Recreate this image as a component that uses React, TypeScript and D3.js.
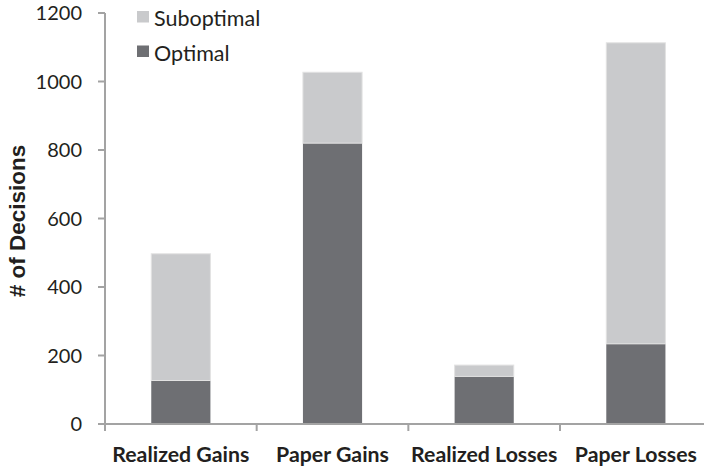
import React from "react";
import * as d3 from "d3";

const categories = ["Realized Gains", "Paper Gains", "Realized Losses", "Paper Losses"];
const optimal = [127, 820, 139, 234];
const suboptimal = [370, 207, 33, 879];
const seriesNames = ["Optimal", "Suboptimal"];
const yTicks = [0, 200, 400, 600, 800, 1000, 1200];

const COLORS: Record<string, string> = { Optimal: "#6e6f73", Suboptimal: "#c9cacc" };
const AXIS = "#a3a3a3";
const FONT = "Lato, 'Open Sans', sans-serif";

export default function App() {
  const W = 704, H = 467;
  const left = 105, right = 711.7, top = 13, bottom = 424;
  const x = d3.scaleBand<string>().domain(categories).range([left, right]).padding(0);
  const y = d3.scaleLinear().domain([0, 1200]).range([bottom, top]);
  const rows = categories.map((c, i) => ({ cat: c, Optimal: optimal[i], Suboptimal: suboptimal[i] }));
  const stacked = d3.stack<any>().keys(seriesNames)(rows);
  const barW = x.bandwidth() * 0.39;
  const boundaries = [...categories.map((c) => x(c)!), right];

  return (
    <svg width={W} height={H} style={{ position: "absolute", left: 0, top: 0, background: "#fff" }}>
      {stacked.map((s) => (
        <g key={s.key}>
          {s.map((d, i) => {
            const cx = x(categories[i])! + x.bandwidth() / 2;
            return (
              <rect
                key={i}
                x={cx - barW / 2}
                y={y(d[1])}
                width={barW}
                height={y(d[0]) - y(d[1])}
                fill={COLORS[s.key]}
                stroke={s.key === "Suboptimal" ? "#e2e2e2" : "none"}
                strokeWidth={1}
              />
            );
          })}
        </g>
      ))}
      {/* y axis */}
      <line x1={left} x2={left} y1={top} y2={bottom} stroke={AXIS} strokeWidth={2} />
      {yTicks.map((t) => (
        <g key={t}>
          <line x1={left - 7} x2={left} y1={y(t)} y2={y(t)} stroke={AXIS} strokeWidth={2} />
          <text x={82} y={y(t)} dy="0.36em" textAnchor="end" fontFamily={FONT} fontSize={20} fill="#231f20">
            {t}
          </text>
        </g>
      ))}
      {/* x axis */}
      <line x1={left - 1} x2={right} y1={bottom} y2={bottom} stroke={AXIS} strokeWidth={2} />
      {boundaries.map((b, i) => (
        <line key={i} x1={b} x2={b} y1={bottom} y2={bottom + 7} stroke={AXIS} strokeWidth={2} />
      ))}
      {categories.map((c) => (
        <text
          key={c}
          x={x(c)! + x.bandwidth() / 2}
          y={461.5}
          textAnchor="middle"
          fontFamily={FONT}
          fontWeight="bold"
          fontSize={21.3}
          fill="#231f20"
        >
          {c}
        </text>
      ))}
      {/* y title */}
      <text
        transform="translate(25,221) rotate(-90)"
        textAnchor="middle"
        fontFamily="'Liberation Sans', Arial, sans-serif"
        fontWeight="bold"
        fontSize={22.5}
        fill="#231f20"
      >
        # of Decisions
      </text>
      {/* legend */}
      {["Suboptimal", "Optimal"].map((k, i) => (
        <g key={k} transform={`translate(137,${11 + i * 34.5})`}>
          <rect x={0} y={0} width={12} height={11.5} fill={COLORS[k]} />
          <text x={17} y={15} fontFamily={FONT} fontSize={21.5} fill="#231f20">
            {k}
          </text>
        </g>
      ))}
    </svg>
  );
}
